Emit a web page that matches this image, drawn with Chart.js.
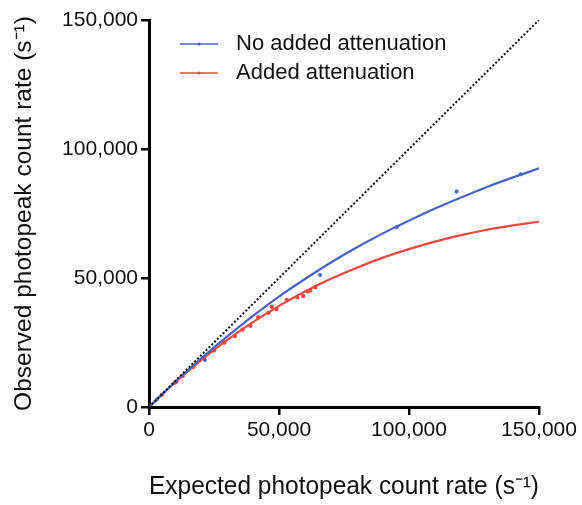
<!DOCTYPE html>
<html>
<head>
<meta charset="utf-8">
<script src="https://cdn.jsdelivr.net/npm/chart.js@4.4.1/dist/chart.umd.min.js"></script>
<style>
  html, body { margin: 0; padding: 0; background: #fff; }
</style>
</head>
<body>
<canvas id="chart" width="582" height="505"></canvas>
<script>
// fitted curves
const fitX         = [0, 10000, 20000, 30000, 40000, 50000, 60000, 70000, 80000, 90000, 100000, 110000, 120000, 130000, 140000, 150000];
const fitNoAtten   = [0, 9700, 18800, 27300, 35300, 42800, 49600, 56000, 61900, 67300, 72200, 76900, 81200, 85300, 89000, 92500];
const fitAtten     = [0, 9500, 18100, 25900, 32900, 39200, 44800, 49700, 54000, 57900, 61200, 64100, 66600, 68700, 70400, 71800];

// measured points
const noAttenX = [3000, 10600, 21500, 65800, 95300, 118300, 143000];
const noAttenY = [2900, 9800, 18200, 51200, 69800, 83500, 90200];
const attenX   = [5000, 10000, 13000, 17000, 21000, 25000, 29000, 33000, 36000, 39000, 42000, 46000, 47200, 49000, 53000, 57000, 59300, 61000, 62000, 64000];
const attenY   = [4800, 9500, 12100, 15500, 19000, 22000, 25000, 27500, 30000, 31500, 34800, 36500, 38900, 38000, 41500, 42500, 43000, 44800, 45200, 46500];

const identityVals = [0, 150000];
const axisTicks = [0, 50000, 100000, 150000];
const seriesNames = ['No added attenuation', 'Added attenuation'];

const BLUE = 'rgb(70,100,200)';
const RED = 'rgb(240,72,60)';
const FONT = 'Arial, "Liberation Sans", Helvetica, sans-serif';

function pairs(xs, ys) {
    return xs.map((x, i) => ({ x: x, y: ys[i] }));
}

const insideLegend = {
    id: 'insideLegend',
    afterDraw(chart) {
        const ctx = chart.ctx;
        const left = chart.chartArea.left;
        const items = [
            { text: seriesNames[0], color: BLUE },
            { text: seriesNames[1], color: RED }
        ];
        ctx.save();
        ctx.font = '22px ' + FONT;
        ctx.textBaseline = 'middle';
        items.forEach((it, i) => {
            const y = 44 + i * 29;
            ctx.strokeStyle = it.color;
            ctx.lineWidth = 1.6;
            ctx.beginPath();
            ctx.moveTo(left + 31, y);
            ctx.lineTo(left + 69, y);
            ctx.stroke();
            ctx.fillStyle = it.color;
            ctx.beginPath();
            ctx.arc(left + 50, y, 1.6, 0, Math.PI * 2);
            ctx.fill();
            ctx.fillStyle = '#111';
            ctx.fillText(it.text, left + 87, y);
        });
        ctx.restore();
    }
};

function axisOpts(title, isX) {
    return {
        type: 'linear',
        min: 0,
        max: 150000,
        afterBuildTicks: scale => { scale.ticks = axisTicks.map(v => ({ value: v })); },
        afterFit: scale => {
            if (isX) scale.height = 98; else scale.width = 149;
        },
        border: { display: true, color: '#000', width: 3 },
        grid: { drawOnChartArea: false, drawTicks: true, tickLength: 8, color: '#000', lineWidth: 2.5 },
        ticks: {
            color: '#111',
            padding: 3,
            maxRotation: 0,
            font: { family: FONT, size: 21 },
            callback: v => v.toLocaleString('en-US')
        },
        title: {
            display: true,
            text: title,
            color: '#111',
            font: { family: FONT, size: isX ? 25 : 24.5 },
            padding: isX ? { top: 0, bottom: 3 } : { top: 10, bottom: 0 }
        }
    };
}

const ctx = document.getElementById('chart').getContext('2d');
new Chart(ctx, {
    type: 'scatter',
    data: {
        datasets: [
            {
                label: 'identity',
                data: pairs(identityVals, identityVals),
                showLine: true,
                borderColor: '#111',
                borderWidth: 2,
                borderDash: [2, 2],
                pointRadius: 0
            },
            {
                label: seriesNames[0] + ' fit',
                data: pairs(fitX, fitNoAtten),
                showLine: true,
                borderColor: BLUE,
                borderWidth: 2.2,
                cubicInterpolationMode: 'monotone',
                pointRadius: 0
            },
            {
                label: seriesNames[1] + ' fit',
                data: pairs(fitX, fitAtten),
                showLine: true,
                borderColor: RED,
                borderWidth: 2.2,
                cubicInterpolationMode: 'monotone',
                pointRadius: 0
            },
            {
                label: seriesNames[0],
                data: pairs(noAttenX, noAttenY),
                backgroundColor: BLUE,
                borderColor: BLUE,
                pointRadius: 2,
                borderWidth: 0
            },
            {
                label: seriesNames[1],
                data: pairs(attenX, attenY),
                backgroundColor: RED,
                borderColor: RED,
                pointRadius: 2.2,
                borderWidth: 0
            }
        ]
    },
    options: {
        responsive: false,
        animation: false,
        layout: { padding: { top: 20, right: 43, left: 0, bottom: 0 } },
        plugins: {
            legend: { display: false },
            tooltip: { enabled: false }
        },
        scales: {
            x: axisOpts('Expected photopeak count rate (s\u207B\u00B9)', true),
            y: axisOpts('Observed photopeak count rate (s\u207B\u00B9)', false)
        }
    },
    plugins: [insideLegend]
});
</script>
</body>
</html>
